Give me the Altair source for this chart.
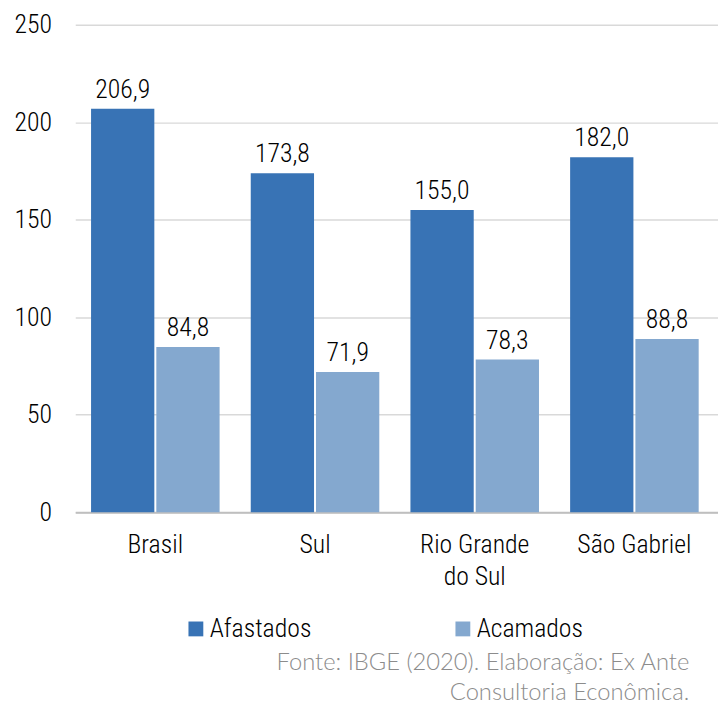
import altair as alt
import pandas as pd

regions = ["Brasil", "Sul", "Rio Grande do Sul", "São Gabriel"]
series = ["Afastados", "Acamados"]
afastados = [206.9, 173.8, 155.0, 182.0]
acamados = [84.8, 71.9, 78.3, 88.8]
y_ticks = [0, 50, 100, 150, 200, 250]
colors = ["#3873b5", "#84a8cf"]
source_lines = ["Fonte: IBGE (2020). Elaboração: Ex Ante", "Consultoria Econômica."]

rows = []
for i, r in enumerate(regions):
    for s, vals in zip(series, [afastados, acamados]):
        rows.append({"regiao": r, "serie": s, "valor": vals[i],
                     "rotulo": f"{vals[i]:.1f}".replace(".", ",")})
df = pd.DataFrame(rows)

LABEL_FONT = "'Liberation Sans Narrow', 'Arial Narrow', 'Roboto Condensed', sans-serif"
W = 300

x = alt.X("regiao:N", sort=regions, title=None,
          scale=alt.Scale(paddingInner=0.195, paddingOuter=0.11, align=0.45),
          axis=alt.Axis(labelAngle=0, labelFontSize=26, labelFont=LABEL_FONT,
                        labelFontWeight=W,
                        labelColor="#000000", labelPadding=20, ticks=False,
                        domainColor="#bfbfbf", domainWidth=2,
                        labelExpr="datum.label == 'Rio Grande do Sul' ? ['Rio Grande', 'do Sul'] : datum.label",
                        labelLineHeight=32))
xoff = alt.XOffset("serie:N", sort=series,
                   scale=alt.Scale(paddingInner=0.0303, paddingOuter=0))
y = alt.Y("valor:Q", title=None, scale=alt.Scale(domain=[0, 250]),
          axis=alt.Axis(values=y_ticks, labelFontSize=26, labelFont=LABEL_FONT,
                        labelFontWeight=W,
                        labelColor="#000000", labelPadding=24, ticks=False,
                        domain=False, gridColor="#d9d9d9", gridWidth=1.5))
color = alt.Color("serie:N", sort=series,
                  scale=alt.Scale(domain=series, range=colors),
                  legend=alt.Legend(title=None, orient="none", legendX=109, legendY=598,
                                    direction="horizontal", symbolType="square",
                                    symbolSize=225, symbolStrokeWidth=0,
                                    labelFontSize=26, labelFont=LABEL_FONT,
                                    labelFontWeight=W,
                                    labelColor="#000000", labelOffset=1,
                                    columnPadding=140, padding=0))

base = alt.Chart(df)
bars = base.mark_bar().encode(x=x, xOffset=xoff, y=y, color=color)
labels = base.mark_text(dy=-11, baseline="alphabetic", fontSize=26,
                        font=LABEL_FONT, fontWeight=W, color="#000000").encode(
    x=x, xOffset=xoff, y=y, text="rotulo:N")

chart = alt.layer(bars, labels).properties(
    width=650, height=493,
    autosize=alt.AutoSizeParams(type="none"),
    padding={"left": 68, "top": 13, "right": 0, "bottom": 190},
    title=alt.TitleParams(text=source_lines, orient="bottom", anchor="end", dx=-29,
                          fontSize=24, font="Lato", fontWeight=300, color="#8c8c8c",
                          lineHeight=30, offset=10),
).configure_view(stroke=None)

chart.save("out.html", embed_options={"renderer": "svg", "actions": False})
